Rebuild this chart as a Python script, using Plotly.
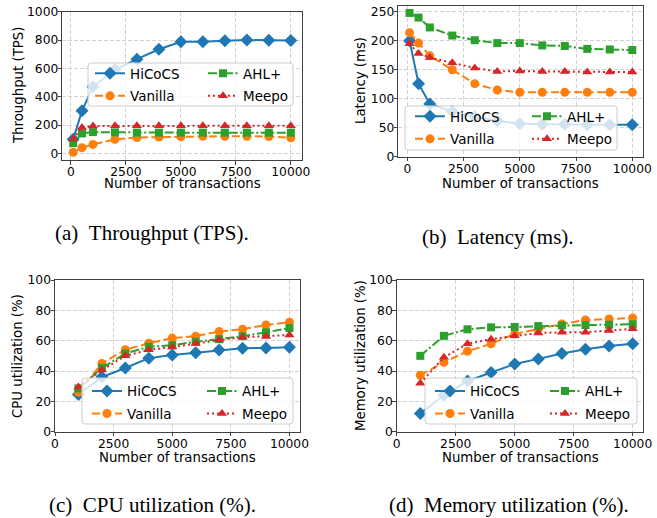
import plotly.graph_objects as go

# ---------------- data ----------------
x_ab = [100, 500, 1000, 2000, 3000, 4000, 5000, 6000, 7000, 8000, 9000, 10000]
x_cd = [1000, 2000, 3000, 4000, 5000, 6000, 7000, 8000, 9000, 10000]

tps_hicocs = [100, 300, 470, 590, 665, 735, 787, 787, 795, 800, 798, 796]
tps_vanilla = [7, 40, 63, 99, 112, 115, 118, 120, 121, 121, 119, 110]
tps_ahl = [72, 141, 150, 148, 146, 146, 146, 146, 146, 146, 146, 146]
tps_meepo = [102, 182, 193, 194, 194, 194, 194, 194, 194, 194, 194, 194]

lat_hicocs = [200, 126, 91, 78, 69, 62, 57, 56, 56, 55, 55, 55]
lat_vanilla = [214, 196, 174, 150, 126, 115, 111, 111, 111, 111, 111, 111]
lat_ahl = [248, 240, 223, 209, 201, 196, 196, 192, 191, 186, 185, 184]
lat_meepo = [195, 178, 171, 162, 153, 147, 148, 147, 147, 146, 146, 146]

cpu_hicocs = [24.6, 36, 42, 48.5, 50.5, 52, 53.8, 55, 55.2, 55.6]
cpu_vanilla = [26, 45, 54, 58.3, 61.7, 63, 66, 67.6, 70.3, 72.2]
cpu_ahl = [28.5, 42, 51.5, 56, 57, 59.3, 61, 63, 65.5, 68.3]
cpu_meepo = [29.5, 40.6, 50, 54, 55.8, 58.2, 60.4, 62.2, 62.8, 63.8]

mem_hicocs = [12, 24, 33.4, 39, 44.6, 48, 51.6, 54.3, 56.5, 58]
mem_vanilla = [37.2, 45.7, 53, 58, 64.4, 67.5, 71, 73.6, 74.3, 75]
mem_ahl = [50, 63.2, 67.5, 68.8, 69, 69.6, 70, 70.3, 70.5, 70.8]
mem_meepo = [32, 49, 58, 61, 63.2, 65, 65.6, 65.6, 66.7, 67.8]

series_names = ["HiCoCS", "Vanilla", "AHL+", "Meepo"]
y_titles = ["Throughput (TPS)", "Latency (ms)", "CPU utilization (%)", "Memory utilization (%)"]
x_title = "Number of transactions"
x_tickvals = [0, 2500, 5000, 7500, 10000]
captions = ["(a)\u00a0\u00a0Throughput (TPS).", "(b)\u00a0\u00a0Latency (ms).",
            "(c)\u00a0\u00a0CPU utilization (%).", "(d)\u00a0\u00a0Memory utilization (%)."]

# ---------------- styling ----------------
W, H = 657, 518
colors = {"HiCoCS": "#1f77b4", "Vanilla": "#ff7f0e", "AHL+": "#2ca02c", "Meepo": "#d62728"}
dashes = {"HiCoCS": "solid", "Vanilla": "8px,3.5px", "AHL+": "9px,2.5px,2px,2.5px", "Meepo": "2px,3px"}
symbols = {"HiCoCS": "diamond", "Vanilla": "circle", "AHL+": "square", "Meepo": "triangle-up"}
msizes = {"HiCoCS": 10, "Vanilla": 9, "AHL+": 8, "Meepo": 9}

FONT = "DejaVu Sans"
TICK_SIZE = 12.3
TITLE_SIZE = 13.3
LEG_SIZE = 13.5

# panel frames in screen pixels: (left, right, top, bottom)
frames = [(62.3, 301.7, 11.7, 160.0), (398.3, 643.3, 6.0, 156.7),
          (55.0, 300.0, 280.0, 431.7), (396.7, 643.3, 280.0, 431.7)]
xranges = [[-395, 10495], [-400, 10490], [0, 10450], [0, 10450]]
yranges = [[-47, 1000], [0, 260], [0, 100], [0, 100]]
ytickvals = [[0, 200, 400, 600, 800, 1000], [0, 50, 100, 150, 200, 250],
             [0, 20, 40, 60, 80, 100], [0, 20, 40, 60, 80, 100]]
ytitle_x = [18, 360, 17, 360]
ytitle_y = [86, 81, 356, 356]
xtitle_y = [183.5, 183.5, 457.5, 457.5]
# legend boxes (left, right, top, bottom), column text starts, first row center
legend_boxes = [(88, 293, 63, 106), (405, 617, 106, 150), (82, 293, 378, 424), (425, 637, 378, 424)]
legend_text_x = [(130, 243), (450, 567), (127, 242), (470, 585)]
legend_row1 = [74, 117, 391.7, 391.7]
caption_pos = [(152, 233), (498, 237), (152, 505), (509, 505)]

data = [
    (x_ab, [tps_hicocs, tps_vanilla, tps_ahl, tps_meepo]),
    (x_ab, [lat_hicocs, lat_vanilla, lat_ahl, lat_meepo]),
    (x_cd, [cpu_hicocs, cpu_vanilla, cpu_ahl, cpu_meepo]),
    (x_cd, [mem_hicocs, mem_vanilla, mem_ahl, mem_meepo]),
]

fig = go.Figure()
layout = dict(width=W, height=H, margin=dict(l=0, r=0, t=0, b=0),
              paper_bgcolor="white", plot_bgcolor="white",
              font=dict(family=FONT, size=12, color="black"),
              showlegend=True)
shapes = []
annotations = []


def px2x(p):
    return min(max(p / W, 0.0), 1.0)


def py2y(p):
    return min(max(1 - p / H, 0.0), 1.0)


for i, (xs, ys_list) in enumerate(data):
    n = i + 1
    xa = "x" if n == 1 else f"x{n}"
    ya = "y" if n == 1 else f"y{n}"
    l, r, t, b = frames[i]
    axis_common = dict(showline=True, linecolor="#404040", linewidth=1, mirror=True,
                       ticks="outside", ticklen=3.5, tickcolor="#404040",
                       ticklabelstandoff=-3, ticklabeloverflow="allow",
                       showgrid=True, gridcolor="#d3d3d3", griddash="4px,2px", gridwidth=0.8,
                       zeroline=False, automargin=False,
                       tickfont=dict(family=FONT, size=TICK_SIZE, color="black"))
    layout[f"xaxis{'' if n == 1 else n}"] = dict(
        axis_common, domain=[px2x(l), px2x(r)], range=xranges[i], anchor=ya,
        tickvals=x_tickvals, tickformat="d")
    layout[f"yaxis{'' if n == 1 else n}"] = dict(
        axis_common, domain=[py2y(b), py2y(t)], range=yranges[i], anchor=xa,
        tickvals=ytickvals[i], tickformat="d")

    # axis titles
    annotations.append(dict(text=x_title, x=px2x((l + r) / 2), y=py2y(xtitle_y[i]),
                            xref="paper", yref="paper", showarrow=False,
                            xanchor="center", yanchor="middle",
                            font=dict(family=FONT, size=TITLE_SIZE, color="black")))
    annotations.append(dict(text=y_titles[i], x=px2x(ytitle_x[i]), y=py2y(ytitle_y[i]),
                            xref="paper", yref="paper", showarrow=False, textangle=-90,
                            xanchor="center", yanchor="middle",
                            font=dict(family=FONT, size=TITLE_SIZE, color="black")))

    leg1 = "legend" if i == 0 else f"legend{2 * i + 1}"
    leg2 = f"legend{2 * i + 2}"
    for k, name in enumerate(series_names):
        leg = leg1 if name in ("HiCoCS", "Vanilla") else leg2
        fig.add_trace(go.Scatter(
            x=xs, y=ys_list[k], name=name, mode="lines+markers",
            xaxis=xa, yaxis=ya, legend=leg, legendgroup=f"{i}{name}",
            line=dict(color=colors[name], width=2, dash=dashes[name]),
            marker=dict(symbol=symbols[name], size=msizes[name], color=colors[name],
                        line=dict(width=0)),
            cliponaxis=False))

    # legend background box (rounded)
    bl, br, bt, bb = legend_boxes[i]
    rx, ry = 3 / W, 3 / H
    x0, x1, y0, y1 = px2x(bl), px2x(br), py2y(bb), py2y(bt)
    path = (f"M{x0 + rx},{y0} L{x1 - rx},{y0} Q{x1},{y0} {x1},{y0 + ry} "
            f"L{x1},{y1 - ry} Q{x1},{y1} {x1 - rx},{y1} L{x0 + rx},{y1} "
            f"Q{x0},{y1} {x0},{y1 - ry} L{x0},{y0 + ry} Q{x0},{y0} {x0 + rx},{y0} Z")
    shapes.append(dict(type="path", path=path, xref="paper", yref="paper",
                       fillcolor="rgba(255,255,255,0.8)", line=dict(color="#cccccc", width=1),
                       layer="above"))
    tx1, tx2 = legend_text_x[i]
    for leg, tx in ((leg1, tx1), (leg2, tx2)):
        layout[leg] = dict(x=px2x(tx - 40), y=py2y(legend_row1[i] - 16),
                           xanchor="left", yanchor="top",
                           bgcolor="rgba(0,0,0,0)", borderwidth=0, orientation="v",
                           tracegroupgap=2, itemwidth=30,
                           font=dict(family=FONT, size=LEG_SIZE, color="black"))

    cx, cy = caption_pos[i]
    annotations.append(dict(text=captions[i], x=px2x(cx), y=py2y(cy), xref="paper", yref="paper",
                            showarrow=False, xanchor="center", yanchor="middle",
                            font=dict(family="Liberation Serif", size=21, color="black")))

layout["shapes"] = shapes
layout["annotations"] = annotations
fig.update_layout(**layout)
fig.write_html("out.html", config={"displayModeBar": False},
               post_script="document.body.style.margin='0px';document.body.style.overflow='hidden';")
